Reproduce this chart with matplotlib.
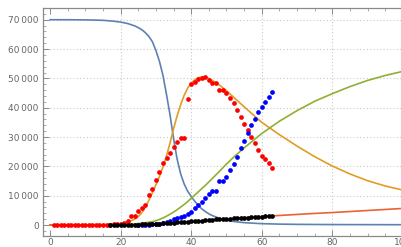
import numpy as np
import matplotlib
matplotlib.use("Agg")
import matplotlib.pyplot as plt
from matplotlib.ticker import MultipleLocator, FuncFormatter

# model curves
t_model = [0, 5, 10, 15, 18, 20, 22, 24, 25, 26, 27, 28, 29, 30, 31, 32, 33, 34, 35, 36, 37,
           38, 39, 40, 41, 42, 43, 44, 45, 46, 48, 50, 52, 55, 60, 65, 70, 75, 80, 85, 90, 95, 100]
susceptible = [70000, 70000, 69950, 69800, 69500, 69200, 68700, 67900, 67300, 66600, 65600,
               64300, 62500, 59500, 55800, 51000, 44500, 37500, 29500, 22500, 17500, 14000,
               11500, 9700, 8100, 6700, 5500, 4600, 3800, 3200, 2300, 1600, 1200, 800, 450,
               300, 220, 180, 150, 130, 120, 110, 100]
infected = [0, 10, 40, 130, 280, 500, 1000, 2000, 2900, 4200, 6000, 8400, 11000, 13700, 16500,
            19800, 23500, 28000, 32800, 37200, 41000, 44200, 46700, 48400, 49500, 50200, 50500,
            50400, 50000, 49300, 47700, 45800, 43600, 40300, 35000, 30800, 26900, 23300, 20100,
            17400, 15100, 13300, 11900]
recovered = [0, 0, 10, 40, 80, 120, 200, 400, 500, 620, 780, 950, 1150, 1450, 1900, 2400, 3000,
             3700, 4400, 5200, 6100, 7000, 8000, 9100, 10200, 11300, 12400, 13500, 14700, 15900,
             18300, 20800, 23100, 26300, 31200, 35400, 39000, 42200, 44800, 47200, 49300, 51000,
             52400]
deceased = [0, 0, 0, 10, 25, 40, 70, 110, 140, 170, 200, 240, 290, 340, 400, 460, 530, 600, 680,
            760, 850, 940, 1030, 1120, 1210, 1300, 1390, 1480, 1570, 1650, 1850, 2030, 2200, 2550,
            2900, 3250, 3600, 3950, 4250, 4600, 4950, 5300, 5650]

# observed data
days_inf = list(range(1, 64))
obs_infected = [0] * 16 + [100, 200, 350, 500, 700, 1200, 3200, 3200, 4700, 5700, 6800, 10200,
                           12300, 15400, 18200, 21000, 22800, 24700, 26700, 28200, 29600, 29600,
                           43100, 48100, 48900, 49700, 50000, 50600, 49500, 48400, 48400, 46100,
                           46100, 45000, 43200, 41500, 39300, 36800, 34500, 32400, 30100, 28100,
                           25600, 23700, 22400, 21000, 19400]
days_rec = list(range(25, 64))
obs_recovered = [0, 50, 100, 150, 250, 350, 500, 700, 1000, 1400, 1900, 2300, 2700, 3100, 3800,
                 4600, 5700, 6700, 8000, 9300, 10500, 11700, 11700, 15100, 15100, 16500, 18800,
                 20700, 23100, 26200, 28700, 31500, 34000, 36100, 38500, 40400, 41900, 43500, 45200]
days_dec = list(range(17, 64))
obs_deceased = [0, 10, 20, 30, 50, 70, 100, 130, 170, 210, 260, 320, 380, 440, 500, 560, 620,
                700, 780, 860, 940, 1020, 1110, 1200, 1300, 1400, 1500, 1600, 1700, 1800, 1880,
                1960, 2040, 2120, 2200, 2270, 2340, 2410, 2480, 2550, 2620, 2690, 2760, 2830,
                2900, 2970, 3050]


fig = plt.figure(figsize=(4.02, 2.47), dpi=100)
ax = fig.add_axes([43/402, 11/247, 367/402, 228/247])

lw = 1.2
ax.plot(t_model, susceptible, color='#5E81B5', lw=lw, zorder=3)
ax.plot(t_model, infected, color='#E19C24', lw=lw, zorder=3)
ax.plot(t_model, recovered, color='#8FB032', lw=lw, zorder=3)
ax.plot(t_model, deceased, color='#EB6235', lw=lw, zorder=3)

ms = 3.4
ax.plot(days_inf, obs_infected, 'o', color='red', ms=ms, mew=0, zorder=4)
ax.plot(days_rec, obs_recovered, 'o', color='blue', ms=ms, mew=0, zorder=4)
ax.plot(days_dec, obs_deceased, 'o', color='black', ms=ms, mew=0, zorder=4)

ax.set_xlim(-2, 102)
ax.set_ylim(-3750, 74000)

ax.xaxis.set_major_locator(MultipleLocator(20))
ax.xaxis.set_minor_locator(MultipleLocator(5))
ax.yaxis.set_major_locator(MultipleLocator(10000))
ax.yaxis.set_minor_locator(MultipleLocator(2000))
ax.yaxis.set_major_formatter(FuncFormatter(
    lambda v, p: f"{int(v):,}".replace(",", "\u2009") if v != 0 else "0"))

for v in range(10000, 80000, 10000):
    ax.axhline(v, color='#c8c8c8', lw=0.8, ls=(0, (1, 2)), zorder=1)
for v in range(20, 100, 20):
    ax.axvline(v, color='#c8c8c8', lw=0.8, ls=(0, (1, 2)), zorder=1)

for s in ax.spines.values():
    s.set_color('#8a8a8a')
    s.set_linewidth(0.9)
ax.tick_params(which='both', direction='in', top=True, right=True, color='#8a8a8a',
               labelcolor='#666666', labelsize=6.5)
ax.tick_params(which='major', length=4, width=0.7)
ax.tick_params(which='minor', length=2, width=0.5)
ax.tick_params(axis='y', pad=3)
ax.tick_params(axis='x', pad=1.2)

fig.savefig("out.png", dpi=100)
